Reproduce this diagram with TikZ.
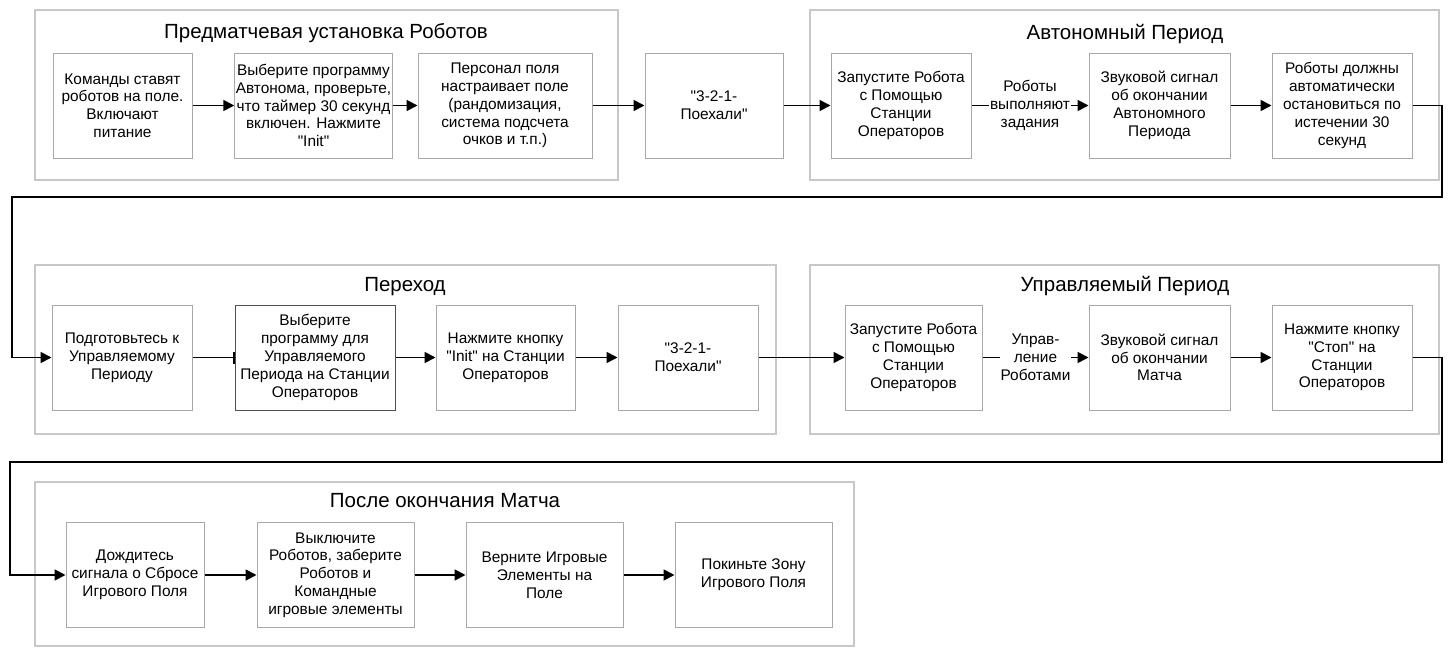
\documentclass[tikz,border=0pt]{standalone}
\usepackage{fontspec}
\setmainfont{Liberation Sans}[Ligatures=TeXOff]
\usetikzlibrary{arrows.meta}
\definecolor{groupgray}{HTML}{C8C8C8}
\definecolor{boxgray}{HTML}{A8A8A8}
\definecolor{boxdark}{HTML}{505050}
\begin{document}
\begin{tikzpicture}[x=1pt, y=-1pt,
    stage/.style={draw=boxgray, line width=1pt, minimum width=140pt, minimum height=105pt,
        align=center, inner sep=1pt, font=\fontsize{15.4}{17.8}\selectfont},
    groupframe/.style={draw=groupgray, line width=1.5pt},
    grouptitle/.style={anchor=base, font=\fontsize{20.5}{24}\selectfont},
    steplabel/.style={fill=white, align=center, inner sep=1pt, font=\fontsize{15.4}{17.8}\selectfont},
    flow/.style={line width=1.8pt, -{Triangle[length=11pt,width=11pt]}}]
    \useasboundingbox (0,0) rectangle (1452,648);

    % Rahmen der Phasen
    \draw[groupframe] (35,10) rectangle (618,180);
    \node[grouptitle] (tpre) at (326,38) {Предматчевая установка Роботов};
    \draw[groupframe] (810,10) rectangle (1439,180);
    \node[grouptitle] (tauto) at (1125,39) {Автономный Период};
    \draw[groupframe] (35,265) rectangle (776,434);
    \node[grouptitle] (ttrans) at (405,291) {Переход};
    \draw[groupframe] (810,265) rectangle (1439,434);
    \node[grouptitle] (tdrive) at (1125,291) {Управляемый Период};
    \draw[groupframe] (35,482) rectangle (854,646);
    \node[grouptitle] (tpost) at (445,507) {После окончания Матча};

    % Zeile 1
    \node[stage, minimum width=139pt] (place) at (122.5,105.5) {Команды ставят\\роботов на поле.\\Включают\\питание};
    \node[stage, minimum width=157pt] (autoprog) at (313.5,105.5) {Выберите программу\\Автонома, проверьте,\\что таймер 30 секунд\\включен. Нажмите\\"Init"};
    \node[stage, minimum width=174pt] (fieldset) at (505,105.5) {Персонал поля\\настраивает поле\\(рандомизация,\\система подсчета\\очков и т.п.)};
    \node[stage, minimum width=138pt] (countA) at (714,105.5) {"3-2-1-\\Поехали"};
    \node[stage] (startA) at (901,105.5) {Запустите Робота\\с Помощью\\Станции\\Операторов};
    \node[stage, minimum width=141pt] (buzzA) at (1159.5,105.5) {Звуковой сигнал\\об окончании\\Автономного\\Периода};
    \node[stage] (stopA) at (1342,105.5) {Роботы должны\\автоматически\\остановиться по\\истечении 30\\секунд};

    % Zeile 2
    \node[stage] (prep) at (122,357.5) {Подготовьтесь к\\Управляемому\\Периоду};
    \node[stage, draw=boxdark, minimum width=160pt] (driveprog) at (315,357.5) {Выберите\\программу для\\Управляемого\\Периода на Станции\\Операторов};
    \node[stage, minimum width=139pt] (init) at (505.5,357.5) {Нажмите кнопку\\"Init" на Станции\\Операторов};
    \node[stage] (countB) at (688,357.5) {"3-2-1-\\Поехали"};
    \node[stage, minimum width=137pt] (startB) at (913.5,357.5) {Запустите Робота\\с Помощью\\Станции\\Операторов};
    \node[stage, minimum width=141pt] (buzzB) at (1159.5,357.5) {Звуковой сигнал\\об окончании\\Матча};
    \node[stage] (stopB) at (1342,357.5) {Нажмите кнопку\\"Стоп" на\\Станции\\Операторов};

    % Zeile 3
    \node[stage, minimum width=138pt] (reset) at (135,575) {Дождитесь\\сигнала о Сбросе\\Игрового Поля};
    \node[stage, minimum width=157pt] (collect) at (335.5,575) {Выключите\\Роботов, заберите\\Роботов и\\Командные\\игровые элементы};
    \node[stage, minimum width=157pt] (returnel) at (544.5,575) {Верните Игровые\\Элементы на\\Поле};
    \node[stage, minimum width=157pt] (leave) at (753.5,575) {Покиньте Зону\\Игрового Поля};

    % Wendepunkte
    \coordinate (turnA) at (1442,197);
    \coordinate (turnB) at (12,197);
    \coordinate (turnC) at (1442,462);
    \coordinate (turnD) at (10,462);

    % Pfeile
    \draw[flow] (place) -- (autoprog);
    \draw[flow] (autoprog) -- (fieldset);
    \draw[flow] (fieldset) -- (countA);
    \draw[flow] (countA) -- (startA);
    \draw[flow] (startA) -- node[steplabel] (runA) {Роботы\\выполняют\\задания} (buzzA);
    \draw[flow] (buzzA) -- (stopA);
    \draw[flow] (stopA.east) -| (turnA) -- (turnB) |- (prep.west);

    \draw[line width=1.8pt, -{Bar[width=12pt,line width=1.8pt]}] (prep) -- (driveprog);
    \draw[flow] (driveprog) -- (init);
    \draw[flow] (init) -- (countB);
    \draw[flow] (countB) -- (startB);
    \draw[flow] (startB) -- node[steplabel] (runB) {Управ-\\ление\\Роботами} (buzzB);
    \draw[flow] (buzzB) -- (stopB);
    \draw[flow] (stopB.east) -| (turnC) -- (turnD) |- (reset.west);

    \draw[flow] (reset) -- (collect);
    \draw[flow] (collect) -- (returnel);
    \draw[flow] (returnel) -- (leave);
\end{tikzpicture}
\end{document}
